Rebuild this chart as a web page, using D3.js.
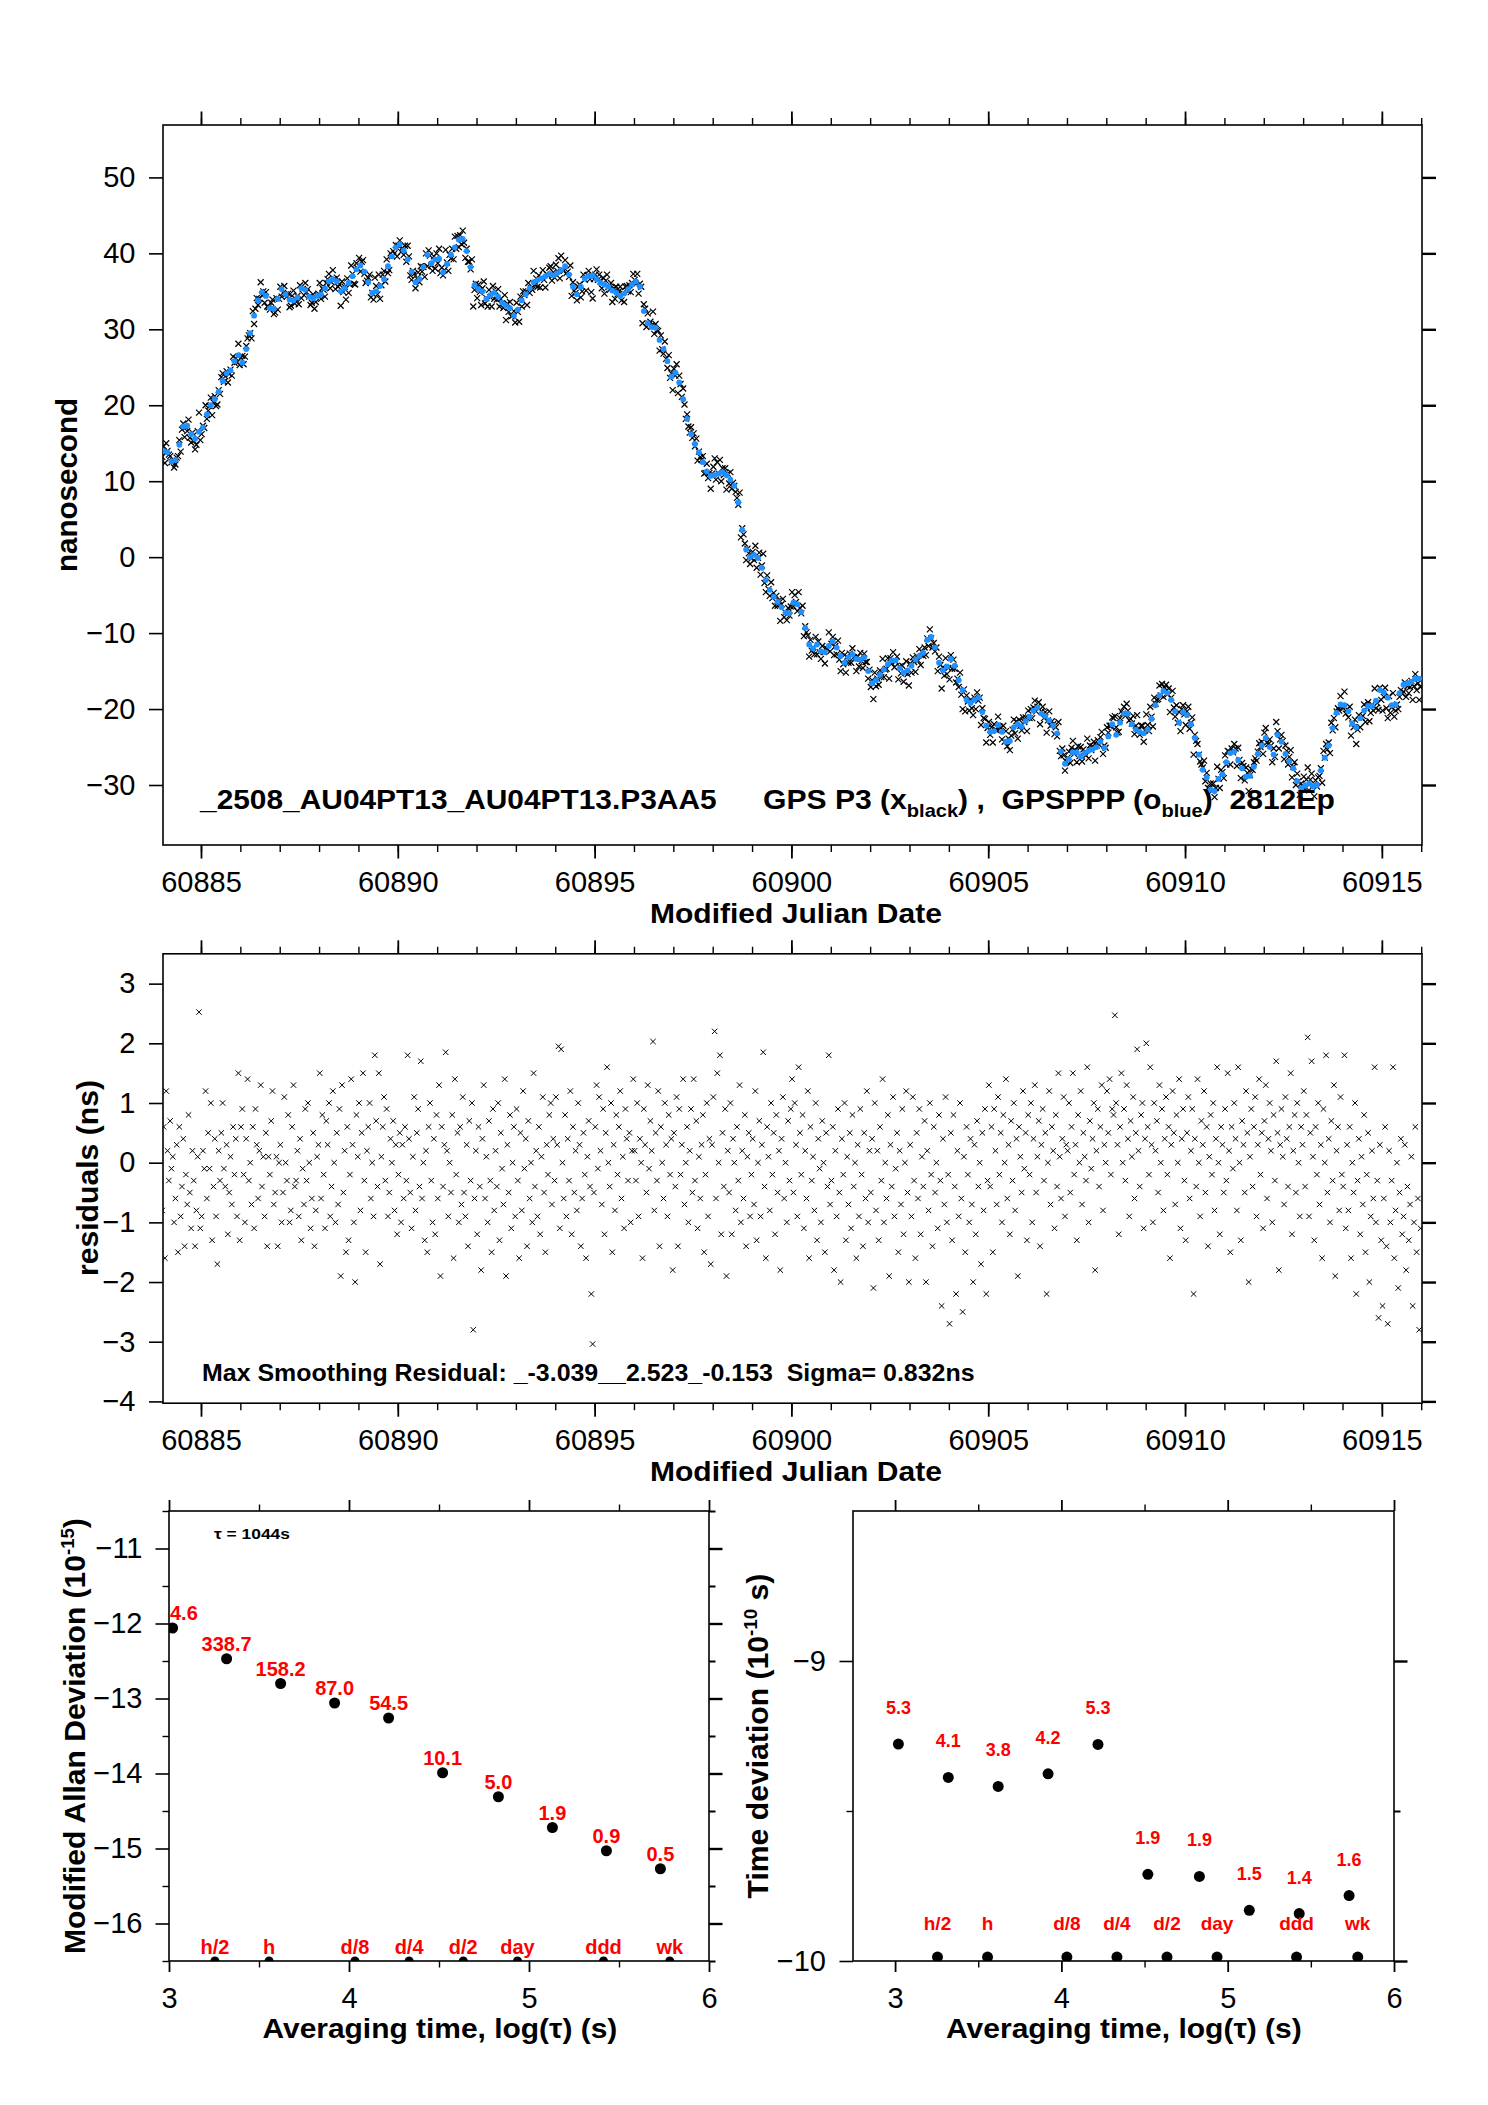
<!DOCTYPE html>
<html>
<head>
<meta charset="utf-8">
<script src="https://cdn.jsdelivr.net/npm/d3@7"></script>
<style>
  body { margin: 0; background: #fff; }
  text { font-family: "Liberation Sans", Arial, Helvetica, sans-serif; }
</style>
</head>
<body>
<svg id="chart" width="1488" height="2105"></svg>
<script>
//
// Data
//
// GPSPPP (blue) clock offset, ns, one value every 0.1 day from MJD 60884.05
var pppStart = 60884.05, pppStep = 0.1;
var ppp = [
  14.0, 13.8, 12.6, 12.8, 14.8, 17.2, 17.3, 16.2, 15.6, 16.5,
  17.1, 18.8, 20.0, 20.8, 21.8, 23.2, 24.2, 24.6, 25.8, 26.6,
  25.6, 27.4, 29.5, 31.8, 33.8, 34.9, 34.4, 32.8, 32.7, 34.0,
  35.3, 34.6, 33.9, 33.8, 34.2, 35.4, 35.2, 34.3, 34.1, 34.4,
  34.6, 35.4, 36.3, 36.6, 36.3, 35.0, 35.4, 36.1, 37.0, 37.9,
  38.4, 37.6, 36.2, 34.8, 35.0, 35.7, 36.6, 38.3, 39.6, 40.8,
  41.2, 40.4, 39.2, 37.6, 36.2, 36.6, 38.2, 39.8, 38.7, 39.2,
  39.3, 37.5, 38.6, 39.8, 40.8, 41.8, 41.9, 40.3, 38.2, 35.8,
  35.3, 35.0, 34.0, 34.5, 34.8, 34.3, 33.5, 33.1, 32.8, 31.8,
  32.6, 33.8, 34.6, 35.4, 36.2, 36.5, 36.7, 37.0, 37.3, 37.1,
  37.4, 37.8, 38.3, 37.2, 35.6, 34.6, 35.6, 36.7, 37.0, 37.1,
  36.6, 36.1, 35.9, 35.6, 35.1, 34.8, 34.4, 34.7, 35.3, 35.9,
  36.3, 35.6, 32.4, 30.8, 30.3, 30.2, 28.6, 27.4, 25.8, 23.8,
  24.3, 23.0, 20.8, 18.2, 16.2, 14.9, 13.8, 12.5, 11.3, 10.7,
  10.8, 11.0, 11.2, 10.8, 10.2, 9.4, 7.2, 3.6, 1.0, 0.0,
  0.3, -0.1, -1.4, -3.0, -4.3, -5.2, -5.9, -6.6, -7.3, -7.4,
  -6.0, -6.2, -7.2, -9.3, -11.5, -12.0, -11.5, -12.4, -12.5, -11.7,
  -11.1, -11.9, -13.0, -13.9, -13.2, -12.8, -13.4, -13.5, -13.2, -15.0,
  -16.6, -16.2, -15.5, -14.8, -14.1, -13.6, -13.6, -14.6, -15.2, -14.9,
  -14.3, -13.5, -13.0, -12.6, -10.9, -10.5, -11.9, -13.9, -14.9, -14.4,
  -13.4, -14.3, -16.2, -17.5, -18.8, -19.2, -18.8, -18.5, -20.4, -22.2,
  -23.0, -22.9, -22.1, -23.0, -24.3, -24.2, -22.4, -22.0, -22.3, -21.6,
  -21.0, -20.2, -19.8, -20.6, -20.9, -21.5, -22.2, -23.2, -25.6, -27.2,
  -26.6, -25.7, -25.7, -26.2, -25.8, -25.5, -25.3, -25.0, -24.3, -25.1,
  -23.6, -22.0, -23.4, -21.8, -20.6, -20.6, -22.0, -22.7, -23.0, -23.2,
  -22.7, -21.3, -19.5, -18.2, -17.6, -17.9, -18.8, -20.3, -21.8, -20.4,
  -20.8, -22.0, -23.8, -26.0, -28.0, -29.0, -30.6, -30.8, -29.2, -28.6,
  -27.0, -25.8, -25.6, -26.7, -27.8, -28.9, -28.8, -27.6, -25.9, -24.8,
  -23.8, -25.0, -26.0, -23.4, -24.3, -25.9, -26.9, -27.8, -29.5, -30.4,
  -30.1, -29.8, -30.2, -30.0, -28.1, -26.4, -24.8, -22.5, -20.5, -19.4,
  -19.5, -20.3, -21.9, -22.4, -21.2, -20.2, -19.6, -19.6, -18.9, -17.5,
  -17.8, -18.5, -19.5, -19.4, -17.9, -16.8, -16.6, -16.4, -16.0, -16.0
];

// P3 smoothing residuals, ns, three per PPP epoch (offsets -1/30, 0, +1/30 day)
var residPerEpoch = 3;
var residuals = [
  -0.8, 0.6, -1.6, 1.2, 0.2, -0.3, 0.7, -0.1, 0.1, -1.0, -0.6, 0.3, -1.5, 0.6, -0.9, -0.4, 0.4, -1.4, -0.2, -0.7, 0.8, -0.5, -1.1, 0.2, -0.3, -1.4, -0.8, 0.1, 2.523, -1.1,
  -0.9, 0.2, -0.1, 1.2, -0.6, 0.5, -0.1, 1.0, -1.3, -0.4, 0.4, -0.9, -1.7, 0.2, -0.3, 0.5, 1.0, -0.1, -0.4, 0.3, -1.2, -0.5, 0.1, -0.7, 0.6, -0.2, 0.4, -0.9, 1.5, -1.3,
  0.6, 0.9, -0.2, -1.0, 0.4, 1.4, -0.3, 0.0, -0.7, 0.6, -1.1, 0.9, 0.3, -0.6, 0.2, 1.3, -0.4, 0.1, -0.9, 0.5, -1.4, 0.1, -0.2, 0.7, 1.2, -0.7, -0.5, 0.1, -1.4, 0.0,
  0.3, -1.0, -0.5, 1.1, 0.0, -0.3, 0.8, -1.0, -0.8, 0.6, 1.3, -0.4, -0.3, 0.2, -0.9, 0.4, -1.3, -0.1, -0.7, 0.9, -0.3, 1.0, 0.0, -1.1, -0.6, 0.5, -1.4, -0.8, 0.1, 0.3,
  1.5, -0.6, 0.8, -0.2, -1.1, 0.7, 0.3, 1.0, -0.9, -0.4, 1.2, 0.0, -1.0, 0.5, -0.7, 0.9, -1.9, 1.3, -0.5, 0.2, -1.5, 0.6, -1.3, -0.2, 1.4, 0.3, -1.0, -2.0, 0.8, 0.1,
  1.0, -0.8, 0.5, 1.5, -0.3, -1.5, 0.2, 0.6, 1.0, -0.6, 0.0, -0.9, 1.8, 0.7, -0.4, 1.5, -1.7, 0.1, 0.6, 1.1, -0.3, 0.9, -0.9, -0.5, 0.4, 0.0, 0.7, -0.8, 0.3, -1.2,
  -0.2, 0.5, -1.0, 0.3, -0.6, 0.6, -0.3, 1.8, 0.4, -0.5, -1.1, 0.1, 1.1, -0.8, 0.5, 0.9, -0.4, 1.7, -0.6, 0.0, -1.3, 0.2, -1.5, 0.6, 1.0, -0.3, -1.0, 0.4, -1.2, 0.8,
  -0.6, 1.3, -1.9, 0.6, -0.4, 0.3, 1.85, 0.2, -0.9, 0.0, -0.5, 0.8, -1.6, 1.4, -0.2, 0.5, -1.0, 0.6, -0.7, 1.1, -0.5, -0.9, 0.3, -1.4, 0.7, -0.3, 1.0, -2.8, -0.6, 0.2,
  -1.2, 0.6, -0.4, -1.8, 0.4, 1.3, -0.6, 0.1, -1.0, 0.7, -0.3, -1.5, 0.9, -0.8, 0.2, -0.4, 1.0, -1.3, 0.5, -0.1, -0.7, 1.4, -1.9, 0.3, -0.5, 0.8, -1.1, 0.0, 0.6, -0.9,
  0.9, -0.3, -1.6, 0.5, -0.8, 1.2, -0.1, 0.4, -1.4, 0.7, -0.6, 0.0, -1.0, 1.5, -0.4, 0.2, -0.9, 0.6, -1.2, 0.1, 1.1, -0.5, -1.5, 0.3, -0.2, 0.8, 1.0, -0.7, 0.4, -0.3,
  1.1, 0.3, 1.95, -1.1, 1.9, 0.0, -0.6, 0.8, -0.9, 0.4, -0.3, 1.2, -1.2, 0.6, -0.5, 0.2, -0.8, 1.0, 0.3, -1.4, -0.6, 0.5, -0.2, -1.6, 0.1, 0.7, -0.4, -2.2, -3.039, -0.5,
  0.6, 1.3, -0.1, 1.1, 0.2, -0.7, 0.9, -1.2, 0.5, 1.6, 0.0, -0.4, 1.0, -1.5, 0.3, -0.8, 0.8, -0.2, 0.6, 1.2, -0.6, 0.1, -1.1, 0.9, 0.4, -0.3, 0.5, -1.0, 0.2, 1.4,
  0.2, -0.3, 1.0, -0.9, 0.4, 0.0, -1.6, 0.9, 0.3, -0.5, 1.3, -0.1, 0.7, 0.2, 2.03, -0.8, 0.5, -0.3, 1.2, -1.4, 0.6, 0.0, -0.6, 1.0, 0.3, -0.9, 0.8, -0.2, 0.4, -1.8,
  0.5, -0.4, 1.1, -1.4, 0.9, -0.2, 0.3, 1.4, -0.7, 0.0, 0.6, -1.0, 0.2, 0.9, -0.5, 1.4, -0.3, 0.7, -1.1, 0.1, -0.6, 0.3, 0.8, -1.5, -0.2, 1.0, -0.9, 0.4, -1.7, 0.3,
  1.1, 2.2, -0.6, 1.5, 0.0, 1.8, -1.2, 0.5, -0.4, 0.9, -1.9, 0.2, -0.5, 1.0, -1.2, 0.4, 0.0, -0.8, 0.6, -0.3, 1.3, -1.0, 0.2, -0.6, 0.8, -1.4, 0.1, 0.5, -0.9, -0.2,
  0.4, -0.7, 1.2, -1.3, 0.0, 0.7, -0.9, 0.3, 1.85, -0.4, -1.6, 0.6, 0.1, -0.8, 1.0, -0.2, 0.5, -1.2, 0.8, -0.5, 0.2, -1.8, 0.4, 1.1, -0.6, 0.0, -1.0, 0.7, -0.3, 0.9,
  1.4, -0.5, 1.0, 0.3, -0.9, 1.6, 0.5, -0.2, 0.8, -1.1, 0.2, -0.6, 1.2, -1.6, 0.6, -0.3, 0.1, -0.8, 1.0, -1.3, 0.4, -0.1, -1.0, 0.7, 0.0, -1.5, 0.5, -0.4, 1.8, -0.7,
  -0.3, 0.6, -1.8, 0.2, -0.9, 0.9, -0.5, -2.0, 0.4, -0.2, 1.0, -1.3, 0.1, -0.7, 0.5, -1.1, 0.8, -0.4, 0.0, -1.6, 0.3, -0.9, 0.9, -0.2, -1.4, 0.5, -0.6, 1.2, -1.0, 0.2,
  -0.5, 0.4, -2.1, 1.0, -0.8, 0.2, -1.3, 0.6, -0.3, 1.4, -1.0, 0.0, -0.6, 0.8, -1.9, 0.3, -0.4, 1.1, -0.9, -0.1, 0.5, -1.5, 0.2, -0.7, 0.9, -1.2, 0.0, 1.2, -0.5, -2.0,
  0.3, -0.9, 1.1, -0.3, -1.6, 0.5, -0.6, 0.9, -1.2, 0.1, -0.4, 0.7, -2.0, 0.2, -0.8, 1.0, -0.2, -1.4, 0.6, -0.5, 0.0, -1.1, 0.8, -0.3, -2.4, 0.4, -0.7, 1.1, -1.0, -0.2,
  -2.7, 0.5, -1.3, 0.8, -0.4, -2.2, 0.2, -0.9, 1.0, -0.6, -2.5, 0.1, -1.5, 0.6, -0.2, -1.0, 0.4, -0.7, -2.0, 0.3, -1.2, 0.7, -0.4, 0.0, -1.7, 0.5, -0.8, 0.9, -2.2, -0.3,
  1.3, -0.4, 0.6, -1.5, 0.9, 0.2, -0.7, 1.1, -0.2, 0.5, -1.0, 0.8, 0.0, 1.4, -0.6, 0.3, -1.2, 0.7, -0.3, 1.0, -0.8, 0.4, -1.9, 0.6, 0.1, -0.5, 1.2, -0.1, 0.5, -1.3,
  0.8, -0.2, 1.0, -1.0, 0.4, 1.3, -0.5, 0.1, 0.7, -1.4, 0.3, 0.9, -0.3, 0.5, -2.2, 0.0, 1.2, -0.7, 0.6, 0.2, -1.1, 0.8, -0.4, 1.5, 0.1, -0.6, 0.4, 1.1, -0.9, 0.3,
  0.2, 1.0, -0.5, 0.6, 1.5, -0.2, 0.3, -1.3, 0.8, 0.0, 1.2, -0.7, 0.5, 0.1, -0.3, 1.6, -1.0, 0.7, -0.1, 0.4, 1.0, -1.8, 0.2, 0.9, -0.4, 0.6, 1.3, -0.8, 0.3, 0.0,
  1.2, 0.5, 1.4, -0.2, 0.9, 0.8, 2.47, 1.0, 0.3, -1.2, 0.6, 1.5, 0.0, 0.9, -0.3, 1.3, 0.4, -0.9, 0.7, 0.1, 1.1, -0.6, 0.5, 1.9, 0.2, -0.4, 0.8, 1.0, -1.1, 0.4,
  2.0, 0.6, -0.2, 1.6, 0.3, -1.0, 1.0, 0.2, 0.7, -0.5, 1.3, 0.0, 0.9, -0.8, 0.4, 1.1, -0.2, 0.6, -1.6, 0.3, 1.2, 0.5, -0.7, 0.8, 0.0, 1.4, -1.1, 0.4, 0.9, -0.3,
  -1.3, 0.5, 1.1, -0.6, 0.2, 0.9, -2.2, 0.4, -0.4, 1.4, 0.0, -0.9, 0.7, 0.3, 1.2, -0.5, 0.6, -1.4, 0.1, 0.8, -0.2, 1.0, -0.8, 0.4, 1.6, 0.0, -1.2, 0.6, 0.3, -0.5,
  0.9, -0.3, 1.5, 0.2, -1.5, 0.6, -0.1, 1.0, 0.4, -0.8, 1.6, 0.0, -1.3, 0.7, 0.3, -0.5, 1.2, 0.5, -2.0, 0.1, 0.9, -0.4, 0.6, 1.1, -0.9, 0.3, 1.4, -0.2, 0.5, -1.1,
  0.7, 1.3, -0.6, 0.4, 1.0, 0.2, -1.0, 0.8, -0.3, 1.7, 0.5, -1.8, 0.3, 0.9, 0.1, -0.7, 1.1, 0.4, -0.4, 0.6, 1.5, -1.2, 0.2, 0.8, -0.5, 1.0, 0.0, -0.9, 0.6, 0.3,
  1.2, -0.4, 0.8, 2.1, -0.9, 0.5, 1.7, 0.1, -1.3, 0.6, -0.2, 1.0, -0.7, 0.3, -1.6, 0.9, 0.0, 1.8, -0.5, 0.4, -1.0, 0.7, -0.3, 1.3, -1.9, 0.2, 0.6, -0.8, 1.1, -0.2,
  -0.4, 1.8, -1.1, 0.3, -0.8, 0.6, -1.6, 0.0, -0.5, 1.0, -2.2, -0.3, 0.4, -1.2, 0.1, -0.7, 0.8, -1.5, -0.2, 0.5, -2.0, -0.9, 0.2, -0.6, 1.6, -1.0, -0.3, -2.6, 0.3, -1.3,
  -2.4, -0.6, 0.6, -1.4, -2.7, 0.2, -1.0, -0.3, 1.6, -1.6, -0.8, 0.0, -2.1, -0.5, 0.4, -1.2, -0.9, 0.3, -1.8, -0.4, -1.3, -0.7, 0.1, -2.4, -1.0, 0.6, -1.5, -0.6, -2.8, -1.1
];

// stability plots: log10(tau), log10(MDEV), log10(TDEV) and the printed numbers
var logTau = [3.02, 3.32, 3.62, 3.92, 4.22, 4.52, 4.83, 5.13, 5.43, 5.73];
var logMdev = [-12.06, -12.47, -12.80, -13.06, -13.26, -13.99, -14.31, -14.72, -15.03, -15.27];
var mdevLabels = ["4.6", "338.7", "158.2", "87.0", "54.5", "10.1", "5.0", "1.9", "0.9", "0.5"];
var logTdev = [-9.277, -9.388, -9.418, -9.376, -9.278, -9.711, -9.718, -9.831, -9.842, -9.782];
var tdevLabels = ["5.3", "4.1", "3.8", "4.2", "5.3", "1.9", "1.9", "1.5", "1.4", "1.6"];
var refNames = ["h/2", "h", "d/8", "d/4", "d/2", "day", "ddd", "wk"];
var refLogTau = [3.255, 3.556, 4.033, 4.334, 4.635, 4.936, 5.414, 5.782];
var tdevRefLevel = -9.987;

var mjdTicks = [60885, 60890, 60895, 60900, 60905, 60910, 60915];
var mjdMinor = d3.range(60885, 60917, 1);
var nsTicks = [-30, -20, -10, 0, 10, 20, 30, 40, 50];
var residTicks = [-4, -3, -2, -1, 0, 1, 2, 3];
var logTicks = [3, 4, 5, 6];
var logMinor = [3.5, 4.5, 5.5];
var mdevTicks = [-16, -15, -14, -13, -12, -11];
var mdevMinor = [-16.5, -15.5, -14.5, -13.5, -12.5, -11.5, -10.5];
var tdevTicks = [-10, -9];
var tdevMinor = [-9.5];

//
// Drawing
//
var svg = d3.select("#chart");
svg.append("rect").attr("width", 1488).attr("height", 2105).attr("fill", "#fff");
var fmt = d3.format("d");
var clipId = 0;

function crossPath(s) {
    return "M" + (-s) + "," + (-s) + "L" + s + "," + s + "M" + (-s) + "," + s + "L" + s + "," + (-s);
}

// one axis side: ticks only or ticks with labels
function side(g, axisFn, scale, vals, size, tx, ty, labels, pad, width) {
    var a = axisFn(scale).tickValues(vals).tickSize(size).tickSizeOuter(0).tickPadding(pad || 0);
    a.tickFormat(labels ? fmt : "");
    var s = g.append("g").attr("transform", "translate(" + tx + "," + ty + ")").call(a);
    s.select(".domain").remove();
    s.selectAll("line").attr("stroke", "#000").attr("stroke-width", width || 1.6);
    s.selectAll("text").attr("font-size", 29).attr("fill", "#000")
        .attr("font-family", '"Liberation Sans", Arial, sans-serif');
    return s;
}

// box with ticks on all four sides; returns a clipped group for the marks
function frame(x, y, o) {
    var g = svg.append("g");
    var xr = x.range(), yr = y.range();
    var left = xr[0], right = xr[1], bottom = yr[0], topY = yr[1];
    side(g, d3.axisBottom, x, o.xMajor, o.xLen, 0, bottom, true, o.xPad, 1.8);
    side(g, d3.axisBottom, x, o.xMinor, o.xMinLen, 0, bottom, false, 0, 1.4);
    side(g, d3.axisTop, x, o.xMajor, o.xLen, 0, topY, false, 0, 1.8);
    side(g, d3.axisTop, x, o.xMinor, o.xMinLen, 0, topY, false, 0, 1.4);
    side(g, d3.axisLeft, y, o.yMajor, o.yLen, left, 0, true, o.yPad, 1.6);
    side(g, d3.axisRight, y, o.yMajor, o.yLen, right, 0, false, 0, 2.4);
    if (o.yMinor) {
        side(g, d3.axisLeft, y, o.yMinor, o.yMinLen, left, 0, false, 0, 1.4);
        side(g, d3.axisRight, y, o.yMinor, o.yMinLen, right, 0, false, 0, 2);
    }
    g.append("rect").attr("x", left).attr("y", topY)
        .attr("width", right - left).attr("height", bottom - topY)
        .attr("fill", "none").attr("stroke", "#000").attr("stroke-width", 1.6);
    var id = "clip" + (clipId++);
    svg.append("clipPath").attr("id", id).append("rect")
        .attr("x", left).attr("y", topY).attr("width", right - left).attr("height", bottom - topY);
    return svg.append("g").attr("clip-path", "url(#" + id + ")");
}

// bold text, stretched along its own direction to the measured width
function fitText(parent, x, y, w, fs, rot, build, color) {
    var g = parent.append("g");
    var t = g.append("text").attr("font-size", fs).attr("font-weight", "bold")
        .attr("fill", color || "#000").style("white-space", "pre");
    build(t);
    var bw = t.node().getBBox().width;
    t.attr("x", -bw / 2);
    var k = w ? w / bw : 1;
    g.attr("transform", "translate(" + x + "," + y + ")" + (rot ? " rotate(" + rot + ")" : "") + " scale(" + k + ",1)");
    return g;
}

function plain(s) {
    return function(t) { t.text(s); };
}

// ---------- top panel: clock offsets ----------
var xTop = d3.scaleLinear().domain([60884.035, 60916.02]).range([163, 1422]);
var yTop = d3.scaleLinear().domain([-37.9, 56.9]).range([845, 125]);
var offsetMarks = frame(xTop, yTop, {
    xMajor: mjdTicks, xMinor: mjdMinor, xLen: 13.5, xMinLen: 7, xPad: 13,
    yMajor: nsTicks, yLen: 14, yPad: 13.5
});

var p3 = residuals.map(function(r, i) {
    var k = Math.floor(i / residPerEpoch);
    var t = pppStart + k * pppStep + ((i % residPerEpoch) - 1) / 30;
    return { t: t, v: ppp[k] + r, r: r };
});

offsetMarks.selectAll("path.p3").data(p3).enter().append("path")
    .attr("class", "p3")
    .attr("transform", function(d) { return "translate(" + xTop(d.t) + "," + yTop(d.v) + ")"; })
    .attr("d", crossPath(3))
    .attr("stroke", "#000").attr("stroke-width", 1.2).attr("fill", "none");

offsetMarks.selectAll("circle.ppp").data(ppp).enter().append("circle")
    .attr("class", "ppp")
    .attr("cx", function(d, i) { return xTop(pppStart + i * pppStep); })
    .attr("cy", function(d) { return yTop(d); })
    .attr("r", 2.9)
    .attr("fill", "#1e90ff");

fitText(svg, 200 + 518 / 2, 809, 518, 27, 0, plain("_2508_AU04PT13_AU04PT13.P3AA5"));
fitText(svg, 763 + 572 / 2, 809, 572, 27, 0, function(t) {
    t.append("tspan").text("GPS P3 (x");
    t.append("tspan").attr("font-size", 18).attr("dy", 8).text("black");
    t.append("tspan").attr("dy", -8).text(") ,  GPSPPP (o");
    t.append("tspan").attr("font-size", 18).attr("dy", 8).text("blue");
    t.append("tspan").attr("dy", -8).text(")  2812Ep");
});
fitText(svg, 796, 923, 292, 28, 0, plain("Modified Julian Date"));
fitText(svg, 77, 485, 174, 30, -90, plain("nanosecond"));

// ---------- middle panel: residuals ----------
var yRes = d3.scaleLinear().domain([-4.03, 3.5]).range([1403.2, 953.8]);
var xRes = d3.scaleLinear().domain(xTop.domain()).range(xTop.range());
var residMarks = frame(xRes, yRes, {
    xMajor: mjdTicks, xMinor: mjdMinor, xLen: 13.5, xMinLen: 7, xPad: 13,
    yMajor: residTicks, yLen: 14, yPad: 13.5
});

residMarks.selectAll("path.res").data(p3).enter().append("path")
    .attr("class", "res")
    .attr("transform", function(d) { return "translate(" + xRes(d.t) + "," + yRes(d.r) + ")"; })
    .attr("d", crossPath(2.7))
    .attr("stroke", "#000").attr("stroke-width", 1).attr("fill", "none");

fitText(svg, 202 + 773 / 2, 1381, 773, 23.5, 0, plain("Max Smoothing Residual: _-3.039__2.523_-0.153  Sigma= 0.832ns"));
fitText(svg, 796, 1481, 292, 28, 0, plain("Modified Julian Date"));
fitText(svg, 98, 1178, 196, 30, -90, plain("residuals (ns)"));

// ---------- bottom left: modified Allan deviation ----------
var xA = d3.scaleLinear().domain([3, 6]).range([169, 709]);
var yA = d3.scaleLinear().domain([-16.5, -10.5]).range([1961, 1511]);
var adevMarks = frame(xA, yA, {
    xMajor: logTicks, xMinor: logMinor, xLen: 11, xMinLen: 6.5, xPad: 15.5,
    yMajor: mdevTicks, yMinor: mdevMinor, yLen: 13.5, yMinLen: 6.5, yPad: 13
});

adevMarks.selectAll("circle.ref").data(refLogTau).enter().append("circle")
    .attr("class", "ref")
    .attr("cx", function(d) { return xA(d); }).attr("cy", yA(-16.5)).attr("r", 4.5).attr("fill", "#000");
adevMarks.selectAll("circle.pt").data(logTau).enter().append("circle")
    .attr("class", "pt")
    .attr("cx", function(d) { return xA(d); })
    .attr("cy", function(d, i) { return yA(logMdev[i]); })
    .attr("r", 5.5).attr("fill", "#000");

logTau.forEach(function(lt, i) {
    var t = svg.append("text").attr("font-size", 20).attr("font-weight", "bold").attr("fill", "#ff0000")
        .attr("text-anchor", "middle").attr("y", yA(logMdev[i]) - 8).text(mdevLabels[i]);
    var w = t.node().getComputedTextLength();
    t.attr("x", Math.max(xA(lt), 169 + w / 2 + 1));
});
refNames.forEach(function(n, i) {
    svg.append("text").attr("font-size", 20).attr("font-weight", "bold").attr("fill", "#ff0000")
        .attr("text-anchor", "middle").attr("x", xA(refLogTau[i])).attr("y", 1953.5).text(n);
});
fitText(svg, 252, 1539, 76, 15, 0, plain("\u03c4 = 1044s"));
fitText(svg, 440, 2038, 355, 28, 0, plain("Averaging time, log(\u03c4) (s)"));
fitText(svg, 85, 1736, 436, 29, -90, function(t) {
    t.append("tspan").text("Modified Allan Deviation (10");
    t.append("tspan").attr("font-size", 18).attr("dy", -11).text("-15");
    t.append("tspan").attr("dy", 11).text(")");
});

// ---------- bottom right: time deviation ----------
var xT = d3.scaleLinear().domain([2.747, 6]).range([853, 1394]);
var yT = d3.scaleLinear().domain([-10, -8.5]).range([1961, 1511]);
var tdevMarks = frame(xT, yT, {
    xMajor: logTicks, xMinor: logMinor, xLen: 11, xMinLen: 6.5, xPad: 15.5,
    yMajor: tdevTicks, yMinor: tdevMinor, yLen: 13.5, yMinLen: 6.5, yPad: 13.5
});

tdevMarks.selectAll("circle.ref").data(refLogTau).enter().append("circle")
    .attr("class", "ref")
    .attr("cx", function(d) { return xT(d); }).attr("cy", yT(tdevRefLevel)).attr("r", 5.5).attr("fill", "#000");
tdevMarks.selectAll("circle.pt").data(logTau).enter().append("circle")
    .attr("class", "pt")
    .attr("cx", function(d) { return xT(d); })
    .attr("cy", function(d, i) { return yT(logTdev[i]); })
    .attr("r", 5.5).attr("fill", "#000");

logTau.forEach(function(lt, i) {
    svg.append("text").attr("font-size", 18).attr("font-weight", "bold").attr("fill", "#ff0000")
        .attr("text-anchor", "middle").attr("x", xT(lt)).attr("y", yT(logTdev[i]) - 30).text(tdevLabels[i]);
});
refNames.forEach(function(n, i) {
    svg.append("text").attr("font-size", 19).attr("font-weight", "bold").attr("fill", "#ff0000")
        .attr("text-anchor", "middle").attr("x", xT(refLogTau[i])).attr("y", 1930).text(n);
});
fitText(svg, 1124, 2038, 356, 28, 0, plain("Averaging time, log(\u03c4) (s)"));
fitText(svg, 768, 1736, 325, 29, -90, function(t) {
    t.append("tspan").text("Time deviation (10");
    t.append("tspan").attr("font-size", 18).attr("dy", -11).text("-10");
    t.append("tspan").attr("dy", 11).text(" s)");
});
</script>
</body>
</html>
